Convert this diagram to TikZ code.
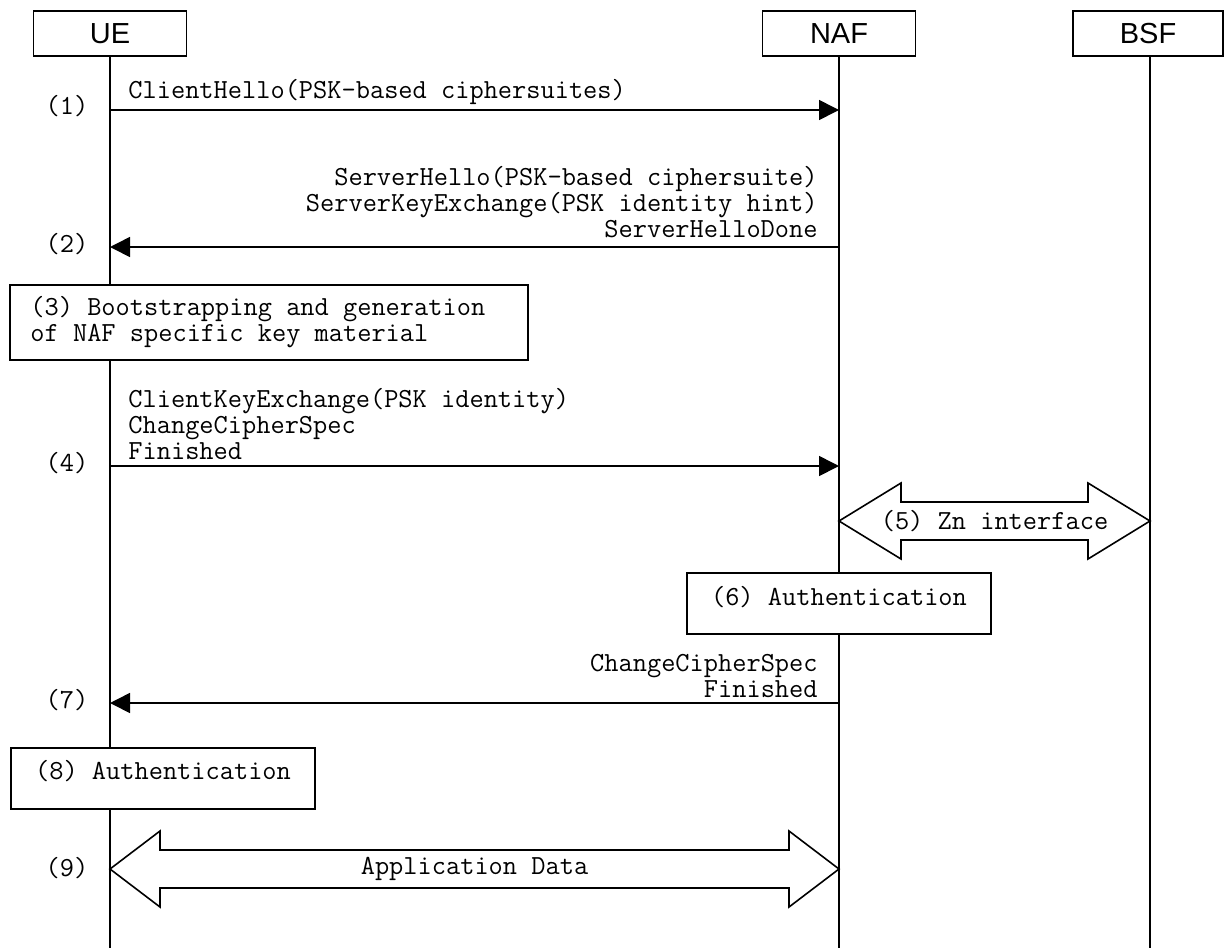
\documentclass[tikz,border=0pt]{standalone}
\usepackage{fontspec}
\newfontfamily\entfont{Liberation Sans}
\usepackage{tikz}
\usetikzlibrary{arrows.meta,positioning,calc}
\tikzstyle{entity}=[rectangle, draw, line width=0.8pt, fill=white, minimum width=76.5pt, minimum height=22.5pt, inner sep=0pt, font=\entfont\fontsize{14.5}{17}\selectfont]
\tikzstyle{life}=[line width=0.8pt]
\tikzstyle{msg}=[line width=0.8pt, -{Triangle[length=10pt,width=10pt]}]
\tikzstyle{lbl}=[inner sep=0pt, font=\ttfamily\fontsize{13.8}{13}\selectfont]
\tikzstyle{num}=[inner sep=0pt, font=\ttfamily\fontsize{13.8}{13}\selectfont]
\tikzstyle{proc}=[draw, line width=0.8pt, fill=white]
\tikzstyle{fat}=[draw, line width=0.8pt, fill=white, line join=miter]
% fat double arrow between two tips, #3 = head length
\newcommand\fatarrow[3]{%
  \draw[fat] (#1) -- ++(#3,-38) -- ++(0,19) -- ($(#2)+(-#3,-19)$) -- ++(0,-19)
    -- (#2) -- ++(-#3,38) -- ++(0,-19) -- ($(#1)+(#3,19)$) -- ++(0,19) -- cycle;}

\begin{document}
\begin{tikzpicture}[x=0.5pt,y=-0.5pt]
\useasboundingbox (0,0) rectangle (1225,948);
%Entities
\node[entity] (ue) at (110,33.5){UE};
\node[entity] (naf) at (839,33.5){NAF};
\node[entity,minimum width=75pt] (bsf) at (1148,33.5){BSF};
%Lifelines
\draw[life] (ue.south) -- (ue |- 0,948);
\draw[life] (naf.south) -- (naf |- 0,948);
\draw[life] (bsf.south -| 1150,0) -- (1150,948);
%Steps
\node[num] (n1) at (67,106){(1)};
\node[num] (n2) at (67,244){(2)};
\node[num] (n4) at (67,463){(4)};
\node[num] (n7) at (67,700){(7)};
\node[num] (n9) at (67,868){(9)};
%(1)
\draw[msg] (ue |- 0,110) -- (naf |- 0,110);
\node[lbl,anchor=west] (m1) at (128,92){ClientHello(PSK-based ciphersuites)};
%(2)
\draw[msg] (naf |- 0,247) -- (ue |- 0,247);
\node[lbl,anchor=east,align=right] (m2) at (818,202.5){ServerHello(PSK-based ciphersuite)\\ServerKeyExchange(PSK identity hint)\\ServerHelloDone};
%(3)
\draw[proc] (10,285) rectangle (528,360);
\node[lbl,anchor=west,align=left] (p3) at (30,322){(3) Bootstrapping and generation\\of NAF specific key material};
%(4)
\draw[msg] (ue |- 0,466) -- (naf |- 0,466);
\node[lbl,anchor=west,align=left] (m4) at (128,424){ClientKeyExchange(PSK identity)\\ChangeCipherSpec\\Finished};
%(5)
\coordinate (z1) at (naf |- 0,521);
\coordinate (z2) at (1150,521);
\fatarrow{z1}{z2}{62}
\node[lbl] (m5) at ($(z1)!0.5!(z2)$){(5) Zn interface};
%(6)
\draw[proc] (687,573) rectangle (991,634);
\node[lbl] (p6) at (839,597){(6) Authentication};
%(7)
\draw[msg] (naf |- 0,703) -- (ue |- 0,703);
\node[lbl,anchor=east,align=right] (m7) at (818,676){ChangeCipherSpec\\Finished};
%(8)
\draw[proc] (11,748) rectangle (315,809);
\node[lbl] (p8) at (163,771){(8) Authentication};
%(9)
\coordinate (a1) at (ue |- 0,869);
\coordinate (a2) at (naf |- 0,869);
\fatarrow{a1}{a2}{50}
\node[lbl] (m9) at ($(a1)!0.5!(a2)$){Application Data};
\end{tikzpicture}
\end{document}
